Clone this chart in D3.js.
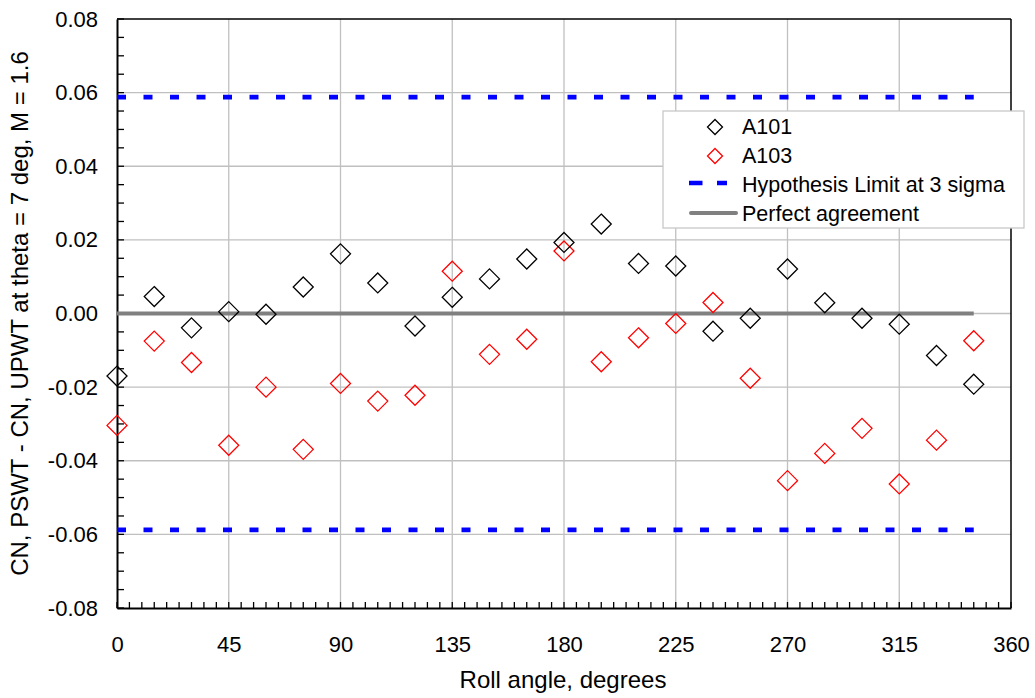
<!DOCTYPE html>
<html><head><meta charset="utf-8">
<script src="https://cdn.jsdelivr.net/npm/d3@7"></script>
<style>body{margin:0;background:#fff;} text{font-family:"Liberation Sans",Arial,sans-serif;}</style>
</head><body>
<svg id="c" width="1035" height="698"></svg>
<script>
const rollAngles = [0,15,30,45,60,75,90,105,120,135,150,165,180,195,210,225,240,255,270,285,300,315,330,345];
const a101 = [-0.0170,0.0046,-0.0039,0.0005,-0.0002,0.0072,0.0162,0.0083,-0.0034,0.0044,0.0094,0.0148,0.0193,0.0243,0.0136,0.0129,-0.0048,-0.0013,0.0121,0.0029,-0.0013,-0.0029,-0.0114,-0.0192];
const a103 = [-0.0304,-0.0075,-0.0133,-0.0358,-0.0200,-0.0369,-0.0190,-0.0238,-0.0222,0.0115,-0.0111,-0.0070,0.0170,-0.0131,-0.0066,-0.0027,0.0030,-0.0176,-0.0454,-0.0380,-0.0312,-0.0463,-0.0344,-0.0074];
const hypothesisLimit = 0.0588;
const xTicks = [0,45,90,135,180,225,270,315,360];
const yTicks = [0.08,0.06,0.04,0.02,0.00,-0.02,-0.04,-0.06,-0.08];
const legendLabels = ["A101","A103","Hypothesis Limit at 3 sigma","Perfect agreement"];

const svg = d3.select("#c");
const L=117, R=1011, T=19, B=608;
const x = d3.scaleLinear().domain([0,360]).range([L,R]);
const y = d3.scaleLinear().domain([-0.08,0.08]).range([B,T]);

// gridlines
const g = svg.append("g");
g.selectAll(".vg").data(xTicks.filter(d=>d>0&&d<360)).enter().append("line")
  .attr("x1",d=>x(d)).attr("x2",d=>x(d)).attr("y1",T).attr("y2",B)
  .attr("stroke","#c0c0c0").attr("stroke-width",1.3);
g.selectAll(".hg").data(yTicks.filter(d=>d>-0.08&&d<0.08)).enter().append("line")
  .attr("x1",L).attr("x2",R).attr("y1",d=>y(d)).attr("y2",d=>y(d))
  .attr("stroke","#c0c0c0").attr("stroke-width",1.3);

// frame top/right
svg.append("line").attr("x1",L).attr("x2",R).attr("y1",T).attr("y2",T).attr("stroke","#000").attr("stroke-width",1.5);
svg.append("line").attr("x1",R).attr("x2",R).attr("y1",T).attr("y2",B).attr("stroke","#000").attr("stroke-width",1.5);

// axes
const xAxis = d3.axisBottom(x).tickValues(xTicks).tickSize(0).tickPadding(0).tickFormat(d3.format("d"));
const xg = svg.append("g").attr("transform",`translate(0,${B})`).call(xAxis);
xg.select(".domain").attr("stroke","#000").attr("stroke-width",2);
xg.selectAll("text").attr("font-size",22).attr("fill","#000").attr("dy",null).attr("y",44);
const xMinor = d3.range(0,361,5);
svg.append("g").selectAll("line").data(xMinor).enter().append("line")
  .attr("x1",d=>x(d)).attr("x2",d=>x(d)).attr("y1",B).attr("y2",B-6).attr("stroke","#000").attr("stroke-width",1.3);

const fmtY = v => d3.format(".2f")(v).replace("\u2212","-");
const yAxis = d3.axisLeft(y).tickValues(yTicks).tickSize(0).tickPadding(19).tickFormat(fmtY);
const yg = svg.append("g").attr("transform",`translate(${L},0)`).call(yAxis);
yg.select(".domain").attr("stroke","#000").attr("stroke-width",2);
yg.selectAll("text").attr("font-size",22).attr("fill","#000");
const yMinor = d3.range(-16,17).map(i=>i*0.005);
svg.append("g").selectAll("line").data(yMinor).enter().append("line")
  .attr("x1",L).attr("x2",L+7).attr("y1",d=>y(d)).attr("y2",d=>y(d)).attr("stroke","#000").attr("stroke-width",1.3);

// hypothesis lines
[hypothesisLimit,-hypothesisLimit].forEach(v=>{
  svg.append("line").attr("x1",x(0)).attr("x2",x(345)).attr("y1",y(v)).attr("y2",y(v))
    .attr("stroke","#0000ff").attr("stroke-width",4.7).attr("stroke-dasharray","9,17.5");
});
// perfect agreement
svg.append("line").attr("x1",x(0)).attr("x2",x(345)).attr("y1",y(0)).attr("y2",y(0))
  .attr("stroke","#808080").attr("stroke-width",4);

const diamond = (cx,cy,r)=>`M${cx},${cy-r}L${cx+r},${cy}L${cx},${cy+r}L${cx-r},${cy}Z`;
const r = 10;
svg.append("g").selectAll("path").data(rollAngles.map((a,i)=>[a,a103[i]])).enter().append("path")
  .attr("d",d=>diamond(x(d[0]),y(d[1]),r)).attr("fill","none").attr("stroke","#ff0000").attr("stroke-width",1.3);
svg.append("g").selectAll("path").data(rollAngles.map((a,i)=>[a,a101[i]])).enter().append("path")
  .attr("d",d=>diamond(x(d[0]),y(d[1]),r)).attr("fill","none").attr("stroke","#000").attr("stroke-width",1.3);

// legend
const lg = svg.append("g");
lg.append("rect").attr("x",663).attr("y",111).attr("width",361).attr("height",117)
  .attr("fill","#fff").attr("stroke","#c8c8c8").attr("stroke-width",1.3);
const baselines = [134.3,163.3,191.7,220.7];
lg.append("path").attr("d",diamond(715,127,7.5)).attr("fill","none").attr("stroke","#000").attr("stroke-width",1.3);
lg.append("path").attr("d",diamond(715,156,7.5)).attr("fill","none").attr("stroke","#ff0000").attr("stroke-width",1.3);
lg.append("line").attr("x1",689).attr("x2",727).attr("y1",183).attr("y2",183)
  .attr("stroke","#0000ff").attr("stroke-width",4.7).attr("stroke-dasharray","13.5,14.5");
lg.append("line").attr("x1",691).attr("x2",736).attr("y1",213).attr("y2",213)
  .attr("stroke","#808080").attr("stroke-width",4).attr("stroke-linecap","round");
lg.selectAll("text").data(legendLabels).enter().append("text")
  .attr("x",742).attr("y",(d,i)=>baselines[i]).attr("font-size",21.5).text(d=>d);

// titles
svg.append("text").attr("x",563).attr("y",688).attr("text-anchor","middle")
  .attr("font-size",24).text("Roll angle, degrees");
svg.append("text").attr("transform",`translate(27.5,313.5) rotate(-90)`).attr("text-anchor","middle")
  .attr("font-size",24).text("CN, PSWT - CN, UPWT at theta = 7 deg, M = 1.6");
</script>
</body></html>
